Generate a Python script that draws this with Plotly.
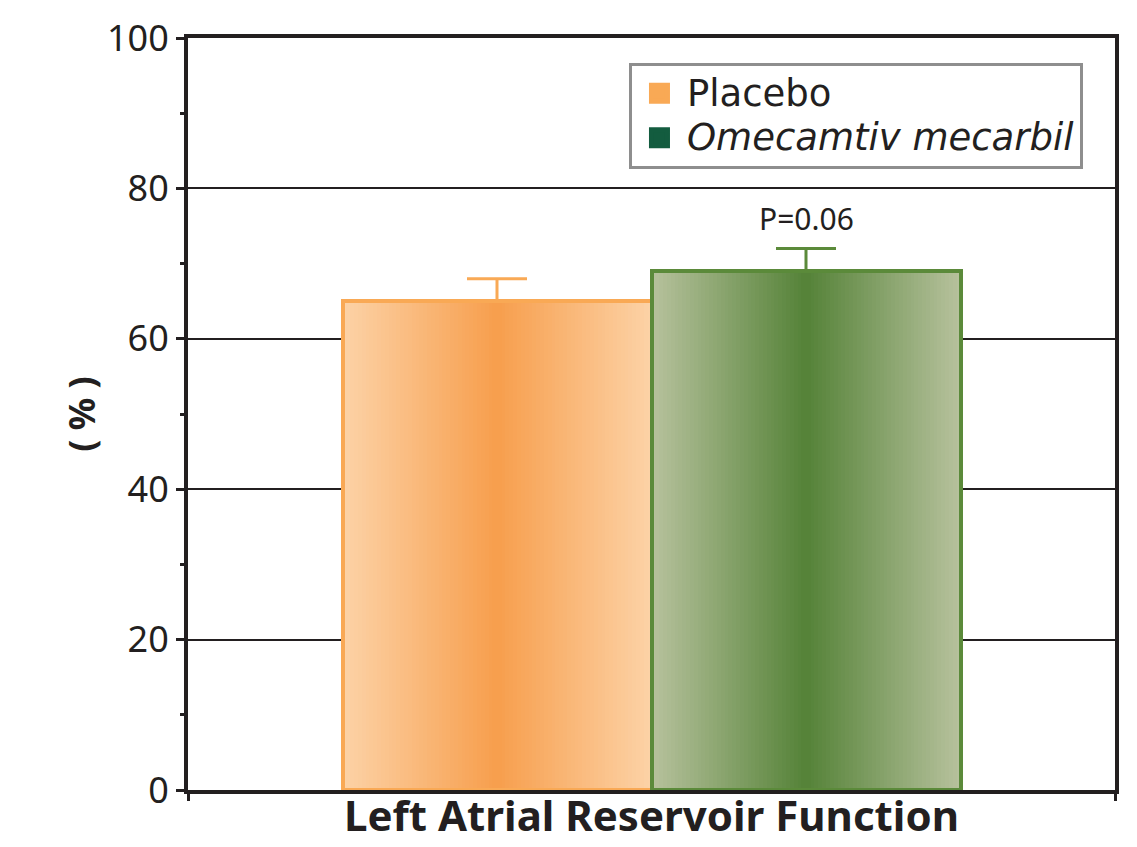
import plotly.graph_objects as go

# ---- data ----
groups = ["Placebo", "Omecamtiv mecarbil"]
legend_labels = ["Placebo", "<i>Omecamtiv mecarbil</i>"]
values = [65, 69]
errors_up = [3, 3]
p_label = "P=0.06"
x_title = "Left Atrial Reservoir Function"
y_title = "( % )"
y_ticks = [0, 20, 40, 60, 80, 100]

# ---- style ----
positions = [1, 2]
bar_width = 1.0
edge_colors = [(252, 210, 166), (182, 193, 156)]
center_colors = [(247, 159, 78), (86, 131, 57)]
outline_colors = ["#F9A955", "#5B8A3A"]
legend_colors = ["#F9A955", "#135C3F"]
FONT = "Noto Sans"
LEG_FONT = "DejaVu Sans"
TXT = "#231F20"

fig = go.Figure()

K = 40
for i in range(len(groups)):
    widths, colors = [], []
    for k in range(K):
        t = k / (K - 1)
        w = bar_width * (1 - t * 0.97)
        c = tuple(round(edge_colors[i][j] + (center_colors[i][j] - edge_colors[i][j]) * t) for j in range(3))
        widths.append(w)
        colors.append("rgb(%d,%d,%d)" % c)
    fig.add_trace(go.Bar(
        x=[positions[i]] * K, y=[values[i]] * K, width=widths,
        marker=dict(color=colors, line=dict(width=0)),
        showlegend=False, hoverinfo="skip"))

for i in range(len(groups)):
    fig.add_trace(go.Bar(
        x=[positions[i]], y=[values[i]], width=[bar_width],
        marker=dict(color="rgba(0,0,0,0)", line=dict(color=outline_colors[i], width=4)),
        error_y=dict(type="data", symmetric=False, array=[errors_up[i]], arrayminus=[0],
                     color=outline_colors[i], thickness=3, width=30),
        showlegend=False, name=groups[i]))

for i in range(len(groups)):
    fig.add_trace(go.Scatter(
        x=[None], y=[None], mode="markers",
        name='<span style="font-size:37px">' + legend_labels[i] + '</span>',
        marker=dict(symbol="square", size=16, color=legend_colors[i],
                    line=dict(color=legend_colors[i], width=5))))

fig.add_annotation(x=positions[1], y=values[1] + errors_up[1] + 4, text=p_label,
                   showarrow=False, font=dict(family=FONT, size=30, color=TXT))

fig.update_layout(
    width=1129, height=839,
    margin=dict(l=180, r=22, t=30, b=57),
    paper_bgcolor="white", plot_bgcolor="white",
    barmode="overlay", bargap=0,
    font=dict(family=FONT, color=TXT),
    legend=dict(x=0.4757, y=0.9668, xanchor="left", yanchor="top",
                bordercolor="#8E8E8E", borderwidth=3, bgcolor="white",
                font=dict(family=LEG_FONT, size=32, color=TXT),
                itemsizing="trace", itemwidth=45, tracegroupgap=0),
    xaxis=dict(range=[0, 3], showgrid=False, zeroline=False, automargin=False,
               showline=True, linecolor=TXT, linewidth=4, mirror=True,
               tickmode="array", tickvals=[0, 3], ticktext=["", ""],
               ticks="outside", ticklen=7, tickwidth=3, tickcolor=TXT,
               title=dict(text="<b>" + x_title + "</b>", font=dict(family=FONT, size=42, color=TXT), standoff=0)),
    yaxis=dict(range=[0, 100], tickvals=y_ticks, automargin=False,
               showgrid=True, gridcolor=TXT, gridwidth=2, zeroline=False,
               showline=True, linecolor=TXT, linewidth=4, mirror=True,
               ticks="outside", ticklen=8, tickwidth=3, tickcolor=TXT,
               tickfont=dict(family=FONT, size=36, color=TXT),
               minor=dict(tickvals=[10, 30, 50, 70, 90], ticks="outside", ticklen=4, tickwidth=3, tickcolor=TXT, showgrid=False),
               title=dict(text="<b>" + y_title + "</b>", font=dict(family=FONT, size=36, color=TXT), standoff=1)),
)

fig.write_html("out.html")
